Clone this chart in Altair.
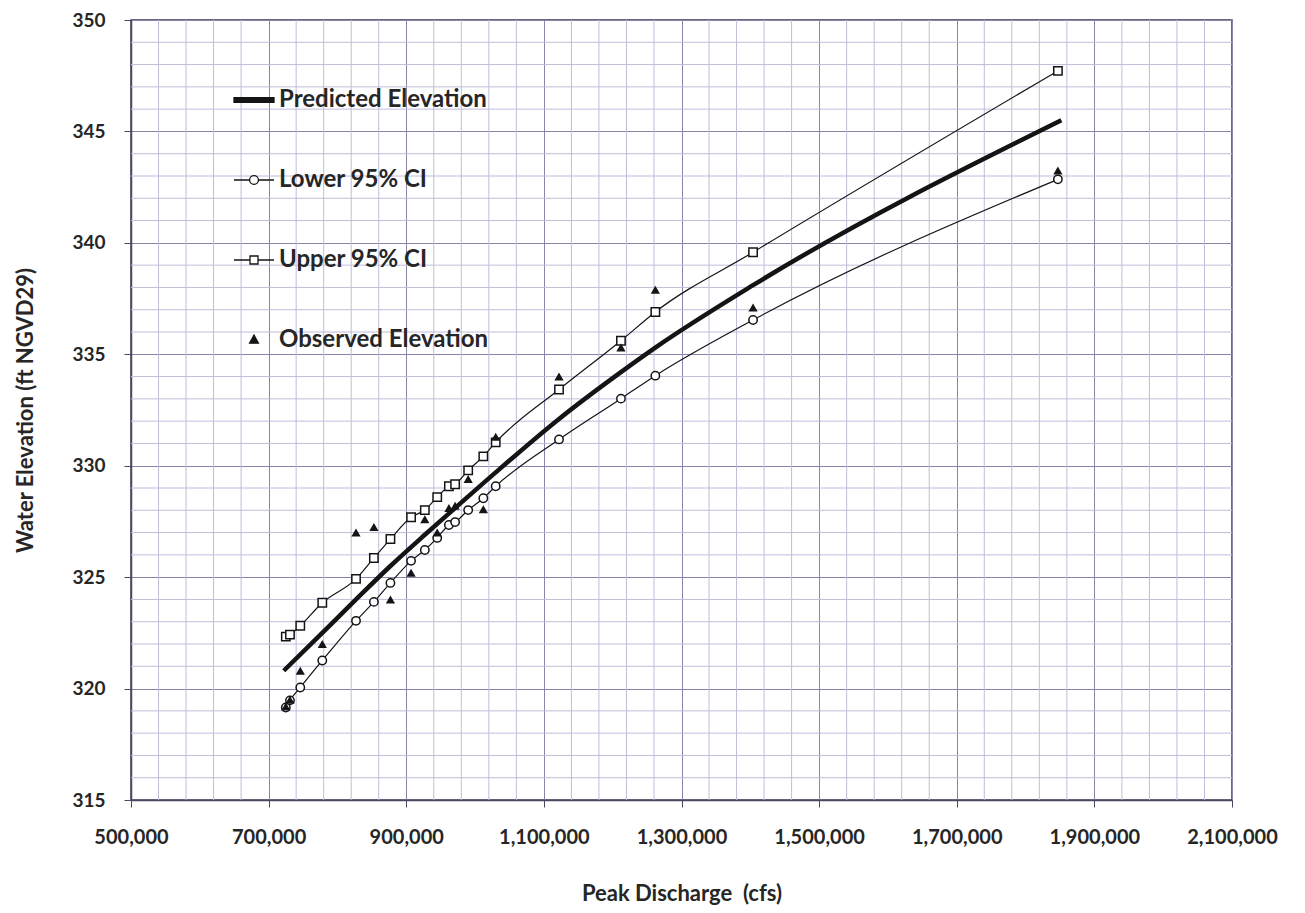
import altair as alt
import pandas as pd

# ---------------- data ----------------
discharge = [725000, 731000, 746000, 778000, 827000, 853000, 877000, 907000,
             927000, 945000, 962000, 971000, 990000, 1012000, 1030000,
             1122000, 1212000, 1262000, 1404000, 1847000]

lower_ci = [319.15, 319.47, 320.05, 321.26, 323.04, 323.89, 324.74, 325.73,
            326.22, 326.76, 327.34, 327.47, 328.01, 328.54, 329.08,
            331.18, 333.01, 334.04, 336.54, 342.85]

upper_ci = [322.33, 322.42, 322.82, 323.85, 324.92, 325.86, 326.71, 327.69,
            328.01, 328.59, 329.08, 329.17, 329.79, 330.42, 331.05,
            333.42, 335.61, 336.90, 339.58, 347.72]

observed = [319.2, 319.5, 320.8, 322.0, 327.0, 327.25, 324.0, 325.2,
            327.6, 327.0, 328.1, 328.2, 329.4, 328.05, 331.3,
            334.0, 335.3, 337.9, 337.1, 343.25]

pred_discharge = [722000, 778000, 827000, 877000, 927000, 971000, 1030000,
                  1122000, 1212000, 1262000, 1404000, 1852000]
predicted = [320.8, 322.5, 324.0, 325.5, 326.9, 328.1, 329.7,
             332.1, 334.2, 335.3, 338.1, 345.5]

x_ticks = [500000, 700000, 900000, 1100000, 1300000, 1500000, 1700000,
           1900000, 2100000]
y_ticks = [315, 320, 325, 330, 335, 340, 345, 350]
x_minor = [v for v in range(540000, 2100000, 40000) if (v - 500000) % 200000 != 0]
y_minor = [v for v in range(316, 350) if v % 5 != 0]

legend_names = ["Predicted Elevation", "Lower 95% CI", "Upper 95% CI",
                "Observed Elevation"]

# ---------------- styling ----------------
FONT = "Lato"
TXT = "#262626"
AXIS_C = "#4d4766"
MAJOR_C = "#8a84aa"
MINOR_C = "#c0bcd9"
INK = "#141414"

xs = alt.Scale(domain=[500000, 2100000], nice=False, zero=False)
ys = alt.Scale(domain=[315, 350], nice=False, zero=False)

x_axis = alt.Axis(values=x_ticks, format=",d", title="Peak Discharge\u00a0 (cfs)",
                  grid=True, gridColor=MAJOR_C, gridWidth=1,
                  tickSize=7, tickColor=AXIS_C, domainColor=AXIS_C, domainWidth=1.5,
                  labelFont=FONT, labelFontSize=20, labelFontWeight="bold",
                  labelColor=TXT, labelPadding=20, labelFlush=False,
                  titleFont=FONT, titleFontSize=22, titleFontWeight="bold",
                  titleColor=TXT, titlePadding=36)
y_axis = alt.Axis(values=y_ticks, title="Water Elevation (ft NGVD29)",
                  grid=True, gridColor=MAJOR_C, gridWidth=1,
                  tickSize=7, tickColor=AXIS_C, domainColor=AXIS_C, domainWidth=1.5,
                  labelFont=FONT, labelFontSize=19, labelFontWeight="bold",
                  labelColor=TXT, labelPadding=19, labelFlush=False,
                  titleFont=FONT, titleFontSize=22, titleFontWeight="bold",
                  titleColor=TXT, titlePadding=34)

df = pd.DataFrame({"Q": discharge, "lower": lower_ci, "upper": upper_ci,
                   "obs": observed})
dfp = pd.DataFrame({"Q": pred_discharge, "pred": predicted})
dfxm = pd.DataFrame({"xm": x_minor})
dfym = pd.DataFrame({"ym": y_minor})

X = lambda f: alt.X(f, type="quantitative", scale=xs, axis=x_axis)
Y = lambda f: alt.Y(f, type="quantitative", scale=ys, axis=y_axis)

minor_x = alt.Chart(dfxm).mark_rule(color=MINOR_C, strokeWidth=1).encode(x=X("xm"))
minor_y = alt.Chart(dfym).mark_rule(color=MINOR_C, strokeWidth=1).encode(y=Y("ym"))

base = alt.Chart(df)
lower_line = base.mark_line(color=INK, strokeWidth=1.2, interpolate="monotone").encode(
    x=X("Q"), y=Y("lower"))
upper_line = base.mark_line(color=INK, strokeWidth=1.2, interpolate="monotone").encode(
    x=X("Q"), y=Y("upper"))
pred_line = alt.Chart(dfp).mark_line(color=INK, strokeWidth=4.5, interpolate="monotone").encode(
    x=X("Q"), y=Y("pred"))
lower_pts = base.mark_point(shape="circle", size=70, filled=True, fill="white",
                            stroke=INK, strokeWidth=1.5, opacity=1).encode(
    x=X("Q"), y=Y("lower"))
upper_pts = base.mark_point(shape="square", size=70, filled=True, fill="white",
                            stroke=INK, strokeWidth=1.5, opacity=1).encode(
    x=X("Q"), y=Y("upper"))
obs_pts = base.mark_point(shape="triangle-up", size=85, filled=True, color=INK,
                          opacity=1).encode(x=X("Q"), y=Y("obs"))

# legend (built by Vega-Lite from shape/fill/stroke scales)
P_PRED = "M-1,-0.12H1V0.12H-1Z"
P_LOW = "M-1,0H-0.22M0.22,0H1M-0.22,0A0.22,0.22,0,1,1,0.22,0A0.22,0.22,0,1,1,-0.22,0Z"
P_UP = "M-1,0H-0.2M0.2,0H1M-0.2,-0.2H0.2V0.2H-0.2Z"
P_OBS = "M0,-0.25L0.22,0.16H-0.22Z"

leg = alt.Legend(title=None, orient="none", legendX=102, legendY=59,
                 direction="vertical", symbolSize=1600, rowPadding=47,
                 labelFont=FONT, labelFontSize=24, labelFontWeight="bold",
                 labelColor=TXT, labelOffset=4, labelLimit=400,
                 symbolStrokeWidth=1.3, padding=0)
legend_layer = alt.Chart(pd.DataFrame({"series": legend_names})).mark_point(
    size=0, filled=True, strokeWidth=1.3, opacity=1).encode(
    shape=alt.Shape("series:N", scale=alt.Scale(domain=legend_names,
                                                range=[P_PRED, P_LOW, P_UP, P_OBS]),
                    legend=leg),
    fill=alt.Fill("series:N", scale=alt.Scale(domain=legend_names,
                                              range=[INK, "white", "white", INK]),
                  legend=leg),
    stroke=alt.Stroke("series:N", scale=alt.Scale(domain=legend_names,
                                                  range=[INK, INK, INK, INK]),
                      legend=leg),
)

chart = alt.layer(minor_x, minor_y, lower_line, upper_line, pred_line,
                  lower_pts, upper_pts, obs_pts, legend_layer).properties(
    width=1101, height=780,
    autosize=alt.AutoSizeParams(type="none"),
    padding={"left": 123, "top": 12, "right": 65, "bottom": 105},
    background="white",
).configure_view(stroke="#3d3856", strokeWidth=1.5)

chart.save("out.html", embed_options={"renderer": "svg", "actions": False})
